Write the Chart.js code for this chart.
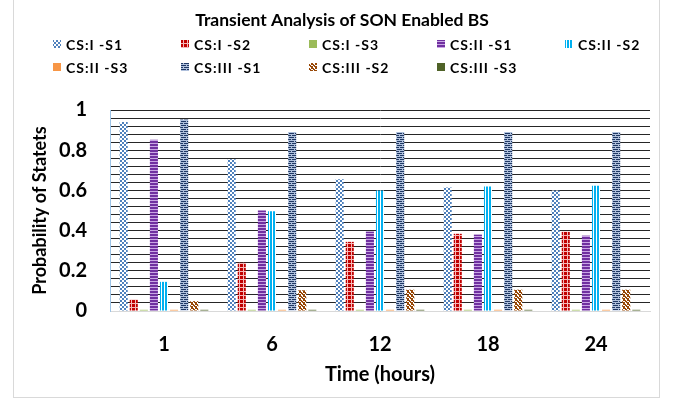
<!DOCTYPE html>
<html>
<head>
<meta charset="utf-8">
<script src="https://cdn.jsdelivr.net/npm/chart.js@4/dist/chart.umd.min.js"></script>
<style>
html,body{margin:0;padding:0;background:#fff;}
#wrap{position:relative;width:673px;height:401px;}
#frame{position:absolute;left:13px;top:-2px;width:647px;height:400px;border:1px solid #D9D9D9;box-sizing:border-box;pointer-events:none;}
canvas{position:absolute;left:0;top:0;}
</style>
</head>
<body>
<div id="wrap">
<canvas id="c" width="673" height="401"></canvas>
<div id="frame"></div>
</div>
<script>
const chartTitle = "Transient Analysis of SON Enabled BS";
const hours = ["1", "6", "12", "18", "24"];
const seriesNames = ["CS:I -S1","CS:I -S2","CS:I -S3","CS:II -S1","CS:II -S2","CS:II -S3","CS:III -S1","CS:III -S2","CS:III -S3"];
const csI_S1   = [0.94, 0.755, 0.655, 0.615, 0.60];
const csI_S2   = [0.057, 0.24, 0.344, 0.384, 0.395];
const csI_S3   = [0.006, 0.006, 0.006, 0.006, 0.006];
const csII_S1  = [0.852, 0.50, 0.395, 0.38, 0.375];
const csII_S2  = [0.145, 0.496, 0.60, 0.62, 0.623];
const csII_S3  = [0.006, 0.006, 0.006, 0.006, 0.006];
const csIII_S1 = [0.953, 0.89, 0.89, 0.89, 0.89];
const csIII_S2 = [0.049, 0.103, 0.106, 0.106, 0.106];
const csIII_S3 = [0.006, 0.006, 0.006, 0.006, 0.006];
const yTickLabels = ["0", "0.2", "0.4", "0.6", "0.8", "1"];
const seriesValues = [csI_S1, csI_S2, csI_S3, csII_S1, csII_S2, csII_S3, csIII_S1, csIII_S2, csIII_S3];

const FONT = "Lato, 'Open Sans', 'Liberation Sans', sans-serif";

function makePattern(w, h, bg, draw) {
  const cv = document.createElement('canvas');
  cv.width = w; cv.height = h;
  const x = cv.getContext('2d');
  x.fillStyle = bg; x.fillRect(0, 0, w, h);
  draw(x);
  return document.getElementById('c').getContext('2d').createPattern(cv, 'repeat');
}
const fills = [
  makePattern(4, 4, '#ffffff', x => { x.fillStyle = '#4F81BD'; x.fillRect(0,0,2,2); x.fillRect(2,2,2,2); }),
  makePattern(4, 4, '#C00000', x => { x.fillStyle = '#F4B8B8'; x.fillRect(3,0,1,4); x.fillRect(0,3,4,1); }),
  '#9BBB59',
  makePattern(1, 3, '#7030A0', x => { x.fillStyle = '#C9A6E4'; x.fillRect(0,2,1,1); }),
  makePattern(3, 1, '#00B0F0', x => { x.fillStyle = '#ffffff'; x.fillRect(2,0,1,1); }),
  '#F79646',
  makePattern(6, 4, '#1F3864', x => { x.fillStyle = '#AFC0DC'; x.fillRect(0,0,6,1); x.fillRect(0,2,6,1); x.fillRect(0,0,1,2); x.fillRect(3,2,1,2); }),
  makePattern(4, 4, '#ffffff', x => { x.fillStyle = '#984807'; x.fillRect(0,0,2,1); x.fillRect(1,1,2,1); x.fillRect(2,2,2,1); x.fillRect(0,3,1,1); x.fillRect(3,3,1,1); x.fillRect(0,2,1,1); x.fillRect(3,0,1,1);}),
  '#4F6228'
];

const datasets = seriesNames.map((n, i) => ({
  label: n,
  data: seriesValues[i],
  backgroundColor: fills[i],
  borderWidth: 0,
  barPercentage: 0.8,
  categoryPercentage: 0.84
}));

const headerPlugin = {
  id: 'header',
  afterDraw(chart) {
    const ctx = chart.ctx;
    ctx.save();
    ctx.fillStyle = '#000';
    ctx.textBaseline = 'middle';
    ctx.textAlign = 'center';
    ctx.font = "bold 17.5px " + FONT;
    ctx.fillText(chartTitle, 342, 20);
    ctx.textAlign = 'left';
    ctx.font = "bold 14px " + FONT;
    if ('letterSpacing' in ctx) ctx.letterSpacing = '1px';
    seriesNames.forEach((n, i) => {
      const col = i % 5, row = Math.floor(i / 5);
      const bx = 53 + col * 128, cy = row === 0 ? 44 : 67;
      ctx.fillStyle = fills[i];
      ctx.fillRect(bx, cy - 4, 8, 8);
      ctx.fillStyle = '#000';
      ctx.fillText(n, bx + 13, cy + 1);
    });
    ctx.restore();
  }
};

new Chart(document.getElementById('c'), {
  type: 'bar',
  data: { labels: hours, datasets },
  options: {
    responsive: false,
    animation: false,
    layout: { padding: { top: 110, left: 0, right: 23, bottom: 0 } },
    plugins: { legend: { display: false }, title: { display: false }, tooltip: { enabled: false } },
    scales: {
      x: {
        grid: { display: false, drawTicks: false },
        border: { display: true, color: '#D9D9D9', width: 1 },
        ticks: { color: '#000', font: { family: FONT, size: 20, weight: 'bold' }, padding: 22 },
        title: { display: true, text: 'Time (hours)', color: '#000', font: { family: FONT, size: 20, weight: 'bold' }, padding: { top: 0, bottom: 14 } },
        afterFit(s) { s.height = 90; }
      },
      y: {
        min: 0, max: 1,
        grid: { color: '#262626', lineWidth: 1, drawTicks: false },
        border: { display: true, color: '#9DC3E6', width: 1 },
        ticks: {
          stepSize: 0.04, maxTicksLimit: 100, autoSkip: false, padding: 23,
          color: '#000', font: { family: FONT, size: 20, weight: 'bold' },
          callback(v) {
            const k = Math.round(v * 5);
            return Math.abs(v * 5 - k) < 1e-6 ? yTickLabels[k] : '';
          }
        },
        title: { display: true, text: 'Probability of Statets', color: '#000', font: { family: FONT, size: 18, weight: 'bold' }, padding: { top: 29, bottom: 0 } },
        afterFit(s) { s.width = 110; }
      }
    }
  },
  plugins: [headerPlugin]
});
</script>
</body>
</html>
